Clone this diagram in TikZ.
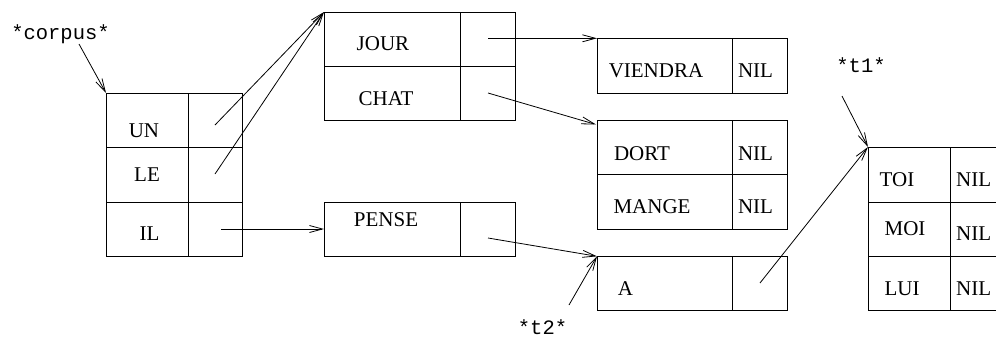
\documentclass[tikz,border=0pt]{standalone}
\usepackage{fontspec}
\setmainfont{Liberation Serif}
\setmonofont{Liberation Mono}
\usetikzlibrary{arrows.meta}
\begin{document}
\begin{tikzpicture}[x=1pt,y=-1pt,
  cell/.style={draw, line width=1pt, minimum width=#1, minimum height=54.5pt,
    inner sep=0pt, outer sep=0pt, anchor=north west},
  lab/.style={font=\fontsize{21}{21}\selectfont, inner sep=0pt, anchor=base},
  mlab/.style={font=\fontsize{20.5}{20.5}\selectfont\ttfamily, inner sep=0pt, anchor=base},
  ptr/.style={line width=0.8pt, -{Straight Barb[length=13pt,width=7pt,line width=0.8pt]}}]
\clip (0,0) rectangle (996,338);
% corpus table
\node[cell=82pt, minimum height=54pt] (un) at (106,93) {};
\node[cell=54pt, minimum height=54pt] (unp) at (188,93) {};
\node[cell=82pt, minimum height=55pt] (le) at (106,147) {};
\node[cell=54pt, minimum height=55pt] (lep) at (188,147) {};
\node[cell=82pt, minimum height=54pt] (il) at (106,202) {};
\node[cell=54pt, minimum height=54pt] (ilp) at (188,202) {};
\node[lab] (tun) at (144,137) {UN};
\node[lab] (tle) at (147,181) {LE};
\node[lab] (til) at (149.5,240.5) {IL};
% JOUR / CHAT
\node[cell=136pt, minimum height=54pt] (jour) at (324,12) {};
\node[cell=55pt, minimum height=54pt] (jourp) at (460,12) {};
\node[cell=136pt, minimum height=54pt] (chat) at (324,66) {};
\node[cell=55pt, minimum height=54pt] (chatp) at (460,66) {};
\node[lab] (tjour) at (383,50.5) {JOUR};
\node[lab] (tchat) at (386,105) {CHAT};
% PENSE
\node[cell=136pt, minimum height=54pt] (pense) at (324,202) {};
\node[cell=55pt, minimum height=54pt] (pensep) at (460,202) {};
\node[lab] (tpense) at (386,226.5) {PENSE};
% VIENDRA
\node[cell=135pt, minimum height=54.7pt] (viendra) at (597,38.3) {};
\node[cell=55pt, minimum height=54.7pt] (viendrap) at (732,38.3) {};
\node[lab] (tviendra) at (656,77.3) {VIENDRA};
\node[lab] (tnil1) at (755.5,77.3) {NIL};
% DORT / MANGE
\node[cell=135pt, minimum height=54pt] (dort) at (597,120.3) {};
\node[cell=55pt, minimum height=54pt] (dortp) at (732,120.3) {};
\node[cell=135pt, minimum height=54.7pt] (mange) at (597,174.3) {};
\node[cell=55pt, minimum height=54.7pt] (mangep) at (732,174.3) {};
\node[lab] (tdort) at (642,160) {DORT};
\node[lab] (tnil2) at (755.5,160) {NIL};
\node[lab] (tmange) at (652,213.3) {MANGE};
\node[lab] (tnil3) at (755.5,213.3) {NIL};
% A
\node[cell=135pt, minimum height=54.4pt] (a) at (597,256.3) {};
\node[cell=55pt, minimum height=54.4pt] (ap) at (732,256.3) {};
\node[lab] (ta) at (625.5,295) {A};
% TOI / MOI / LUI
\node[cell=82pt, minimum height=55pt] (toi) at (868,147) {};
\node[cell=60pt, minimum height=55pt] (toip) at (950,147) {};
\node[cell=82pt, minimum height=54.7pt] (moi) at (868,202) {};
\node[cell=60pt, minimum height=54.7pt] (moip) at (950,202) {};
\node[cell=82pt, minimum height=54pt] (lui) at (868,256.7) {};
\node[cell=60pt, minimum height=54pt] (luip) at (950,256.7) {};
\node[lab] (ttoi) at (897,186.7) {TOI};
\node[lab] (tnil4) at (973.7,186.7) {NIL};
\node[lab] (tmoi) at (905,235) {MOI};
\node[lab] (tnil5) at (973.7,240) {NIL};
\node[lab] (tlui) at (902,295) {LUI};
\node[lab] (tnil6) at (973.7,295) {NIL};
% variable labels
\node[mlab] (corpus) at (60.5,39.5) {*corpus*};
\node[mlab] (t1) at (861,72.5) {*t1*};
\node[mlab] (t2) at (542.5,334.5) {*t2*};
% pointer start points
\coordinate (scorpus) at (79,44);
\coordinate (sun) at (215,125);
\coordinate (sle) at (215,174);
\coordinate (sil) at (221,229);
\coordinate (sjour) at (488,38.3);
\coordinate (schat) at (488,93);
\coordinate (echat) at (596,124.5);
\coordinate (spense) at (488,238);
\coordinate (st2) at (569,305);
\coordinate (sa) at (760,283);
\coordinate (st1) at (842,96);
% connectors
\draw[ptr] (scorpus) -- (un.north west);
\draw[ptr] (sun) -- (jour.north west);
\draw[ptr] (sle) -- (jour.north west);
\draw[ptr] (sil) -- (pense.west);
\draw[ptr] (sjour) -- (viendra.north west);
\draw[ptr] (schat) -- (echat);
\draw[ptr] (spense) -- (a.north west);
\draw[ptr] (st2) -- (a.north west);
\draw[ptr] (sa) -- (toi.north west);
\draw[ptr] (st1) -- (toi.north west);
\end{tikzpicture}
\end{document}
